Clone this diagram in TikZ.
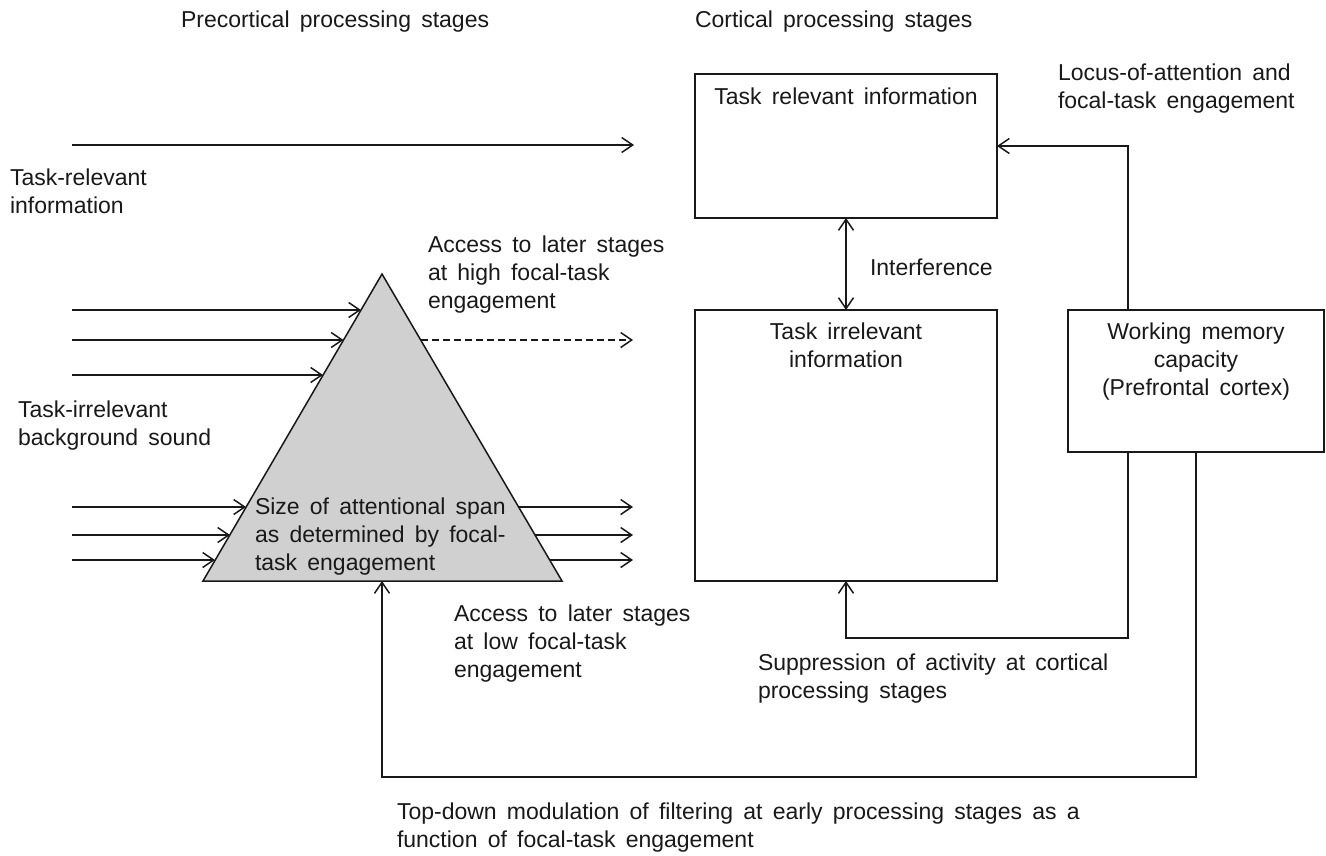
\documentclass[tikz,border=0pt]{standalone}
\usepackage{fontspec}
\setmainfont{Liberation Sans}[WordSpace=1.6]
\usetikzlibrary{arrows.meta}
\definecolor{trigray}{RGB}{208,208,208}
\definecolor{ink}{RGB}{25,25,25}
\begin{document}
\begin{tikzpicture}[x=1pt,y=-1pt,
  every node/.style={font=\fontsize{23}{28}\selectfont, text=ink, inner sep=0pt, outer sep=0pt},
  lbl/.style={anchor=north west, align=left},
  boxtxt/.style={anchor=north, align=center},
  box/.style={draw=ink, line width=1.5pt, anchor=north west},
  conn/.style={draw=ink, line width=1.5pt},
  arr/.style={conn, -{Straight Barb[length=11pt,width=15pt,line width=1.5pt]}},
  darr/.style={conn, {Straight Barb[length=11pt,width=15pt,line width=1.5pt]}-{Straight Barb[length=11pt,width=15pt,line width=1.5pt]}},
]
\fill[white] (0,0) rectangle (1326,855);
\useasboundingbox (0,0) rectangle (1326,855);

% headings
\node[anchor=base west] (hpre) at (181,27) {Precortical processing stages};
\node[anchor=base west] (hcor) at (695,27) {Cortical processing stages};
\node[lbl] (locus) at (1058,64) {Locus-of-attention and\\focal-task engagement};

% boxes
\node[box, minimum width=302pt, minimum height=144pt] (trel) at (695,74) {};
\node[box, minimum width=302pt, minimum height=271pt] (tirr) at (695,310) {};
\node[box, minimum width=256pt, minimum height=142pt] (wm) at (1068,310) {};
\node[boxtxt] (trelt) at ([yshift=-14pt]trel.north) {Task relevant information};
\node[boxtxt] (tirrt) at ([yshift=-13pt]tirr.north) {Task irrelevant\\information};
\node[boxtxt] (wmt) at ([yshift=-13pt]wm.north) {Working memory\\capacity\\(Prefrontal cortex)};

% triangle
\coordinate (tA) at (382,274);
\coordinate (tL) at (203,581);
\coordinate (tR) at (562,581);
\coordinate (tB) at (382,581);
\draw[fill=trigray, draw=ink, line width=1.5pt, line join=miter] (tA) -- (tR) -- (tL) -- cycle;
\node[lbl] (span) at (255,498) {Size of attentional span\\as determined by focal-\\task engagement};

% task-relevant input
\coordinate (relS) at (72,145);
\coordinate (relE) at (634,145);
\draw[arr] (relS) -- (relE);
\node[lbl] (trlab) at (10,169) {Task-relevant\\information};

% background sound inputs
\coordinate (s1) at (72,310);  \coordinate (e1) at (361,310);
\coordinate (s2) at (72,340);  \coordinate (e2) at (343.5,340);
\coordinate (s3) at (72,375);  \coordinate (e3) at (323,375);
\coordinate (s4) at (72,507);  \coordinate (e4) at (246,507);
\coordinate (s5) at (72,535);  \coordinate (e5) at (230,535);
\coordinate (s6) at (72,560);  \coordinate (e6) at (215,560);
\draw[arr] (s1) -- (e1);
\draw[arr] (s2) -- (e2);
\draw[arr] (s3) -- (e3);
\draw[arr] (s4) -- (e4);
\draw[arr] (s5) -- (e5);
\draw[arr] (s6) -- (e6);
\node[lbl] (bglab) at (18,401) {Task-irrelevant\\background sound};

% outputs
\coordinate (o0) at (421,340);   \coordinate (f0) at (633,340);
\coordinate (o1) at (518.5,507); \coordinate (f1) at (633,507);
\coordinate (o2) at (535,535);   \coordinate (f2) at (633,535);
\coordinate (o3) at (549.5,560); \coordinate (f3) at (633,560);
\draw[arr, dash pattern=on 7pt off 4pt] (o0) -- (f0);
\draw[arr] (o1) -- (f1);
\draw[arr] (o2) -- (f2);
\draw[arr] (o3) -- (f3);
\node[lbl] (hilab) at (428,236) {Access to later stages\\at high focal-task\\engagement};
\node[lbl] (lolab) at (454,605) {Access to later stages\\at low focal-task\\engagement};

% cortical connections
\draw[darr] (trel.south) -- (tirr.north);
\node[anchor=base west] (intf) at (870,275) {Interference};
\draw[arr] ([xshift=60pt]wm.north west) |- (trel.east);
\draw[arr] ([xshift=60pt]wm.south west) -- ++(0,186) -| (tirr.south);
\node[lbl] (suplab) at (758,654) {Suppression of activity at cortical\\processing stages};
\draw[arr] (wm.south) -- ++(0,325) -| (tB);
\node[lbl] (tdlab) at (397,803) {Top-down modulation of filtering at early processing stages as a\\function of focal-task engagement};
\end{tikzpicture}
\end{document}
